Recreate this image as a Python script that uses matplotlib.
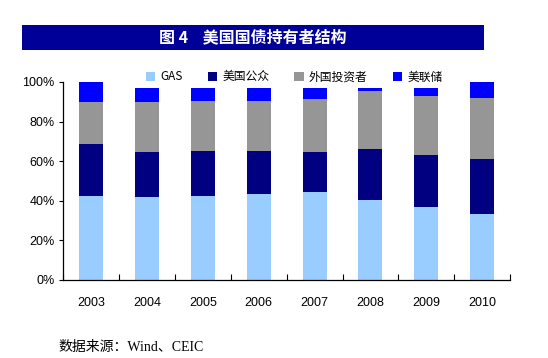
import numpy as np
import matplotlib
matplotlib.use("Agg")
import matplotlib.pyplot as plt
from matplotlib.patches import Rectangle, Patch

plt.rcParams['font.family'] = ['Liberation Sans', 'Noto Sans CJK SC']

# -----------------------------
# Data (share of holdings, %)
# -----------------------------
years = ["2003", "2004", "2005", "2006", "2007", "2008", "2009", "2010"]
gas = [42.4, 41.9, 42.4, 43.4, 44.4, 40.4, 36.9, 33.3]
public = [26.3, 22.7, 22.8, 21.8, 20.2, 25.8, 26.2, 27.8]
foreign = [21.2, 25.3, 25.2, 25.2, 26.8, 29.3, 29.8, 30.8]
fed = [10.1, 7.1, 6.6, 6.6, 5.6, 1.5, 4.1, 8.1]

series_names = ["GAS", "美国公众", "外国投资者", "美联储"]
colors = ["#99CCFF", "#000080", "#969696", "#0000FF"]

# -----------------------------
# Figure
# -----------------------------
fig = plt.figure(figsize=(5.48, 3.58), dpi=100)
ax = fig.add_axes([0.115, 0.218, 0.816, 0.553])

x = np.arange(len(years))
bottom = np.zeros(len(years))
for vals, c in zip([gas, public, foreign, fed], colors):
    v = np.array(vals) / 100.0
    ax.bar(x, v, width=0.43, bottom=bottom, color=c, linewidth=0)
    bottom += v

ax.set_xlim(-0.5, len(years) - 0.5)
ax.set_ylim(0, 1.0)
ax.set_yticks(np.arange(0, 1.01, 0.2))
ax.set_yticklabels([f"{int(round(t * 100))}%" for t in np.arange(0, 1.01, 0.2)], fontsize=9)
ax.tick_params(axis='y', direction='out', length=3, width=0.8, pad=3)

# year labels centered, tick marks between categories
ax.set_xticks(np.arange(-0.5, len(years)), minor=False)
ax.set_xticklabels([])
ax.set_xticks(x, minor=True)
ax.set_xticklabels(years, minor=True, fontsize=9)
ax.tick_params(axis='x', which='major', direction='in', length=4, width=0.8)
ax.tick_params(axis='x', which='minor', length=0, pad=12)

for s in ["top", "right"]:
    ax.spines[s].set_visible(False)
for s in ["left", "bottom"]:
    ax.spines[s].set_linewidth(0.9)

# legend
handles = [Patch(facecolor=c, edgecolor='none') for c in colors]
fig.legend(handles, series_names, loc='center left', bbox_to_anchor=(0.266, 0.785),
           ncol=4, frameon=False, handlelength=0.8, handleheight=0.8,
           handletextpad=0.45, columnspacing=2.1, borderpad=0, borderaxespad=0,
           prop={'family': ['Noto Sans CJK SC'], 'size': 8.5})

# title banner
fig.patches.append(Rectangle((0.040, 0.860), 0.843, 0.070, transform=fig.transFigure,
                             facecolor="#000099", edgecolor='none'))
fig.text(0.462, 0.895, "图 4    美国国债持有者结构", color='white', fontsize=11.5,
         fontweight='bold', ha='center', va='center',
         family=['Noto Sans CJK SC'])

# source
fig.text(0.106, 0.030, "数据来源：Wind、CEIC", fontsize=10, ha='left', va='center',
         family=['Liberation Serif', 'Noto Sans CJK SC'])

fig.savefig("out.png", dpi=100)
